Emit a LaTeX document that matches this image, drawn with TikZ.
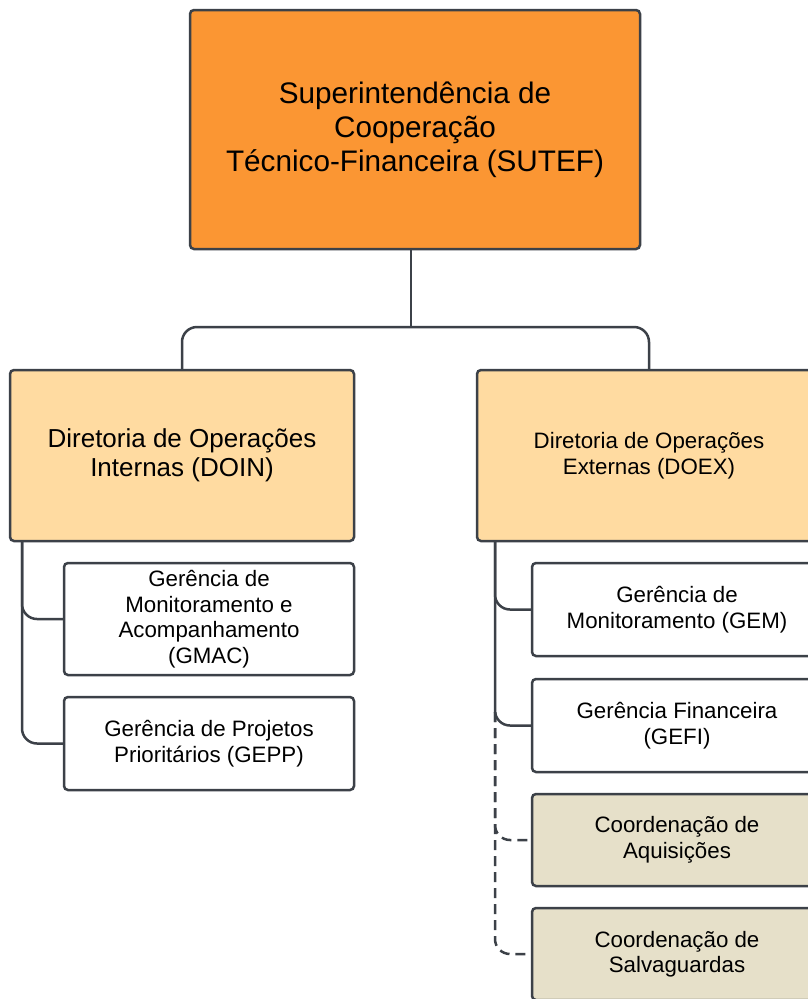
\documentclass[tikz,border=0pt]{standalone}
\usepackage{fontspec}
\setmainfont{Liberation Sans}
\definecolor{edge}{HTML}{3C4148}
\definecolor{topfill}{HTML}{FB9633}
\definecolor{dirfill}{HTML}{FFDBA1}
\definecolor{coordfill}{HTML}{E6E0C9}
\tikzset{
  box/.style={draw=edge, line width=2.5pt, rounded corners=4pt, align=center, inner sep=0pt, anchor=center},
  topbox/.style={box, fill=topfill, minimum width=450pt, minimum height=239pt, font=\fontsize{29.7}{34}\selectfont},
  dirbox/.style={box, fill=dirfill, minimum width=344pt, minimum height=171pt},
  gerbox/.style={box, fill=white, minimum width=290pt, minimum height=93pt, font=\fontsize{22.3}{25.5}\selectfont},
  coordbox/.style={gerbox, fill=coordfill, minimum height=92pt},
  link/.style={draw=edge, line width=2.5pt, rounded corners=15pt},
  dlink/.style={link, dash pattern=on 10pt off 6pt}
}
\begin{document}
\begin{tikzpicture}[x=1pt,y=-1pt]
\clip (0,0) rectangle (808,999);
\fill[white] (0,0) rectangle (808,999);
% nodes
\node[topbox] (sutef) at (415,129.5) {Superintendência de\\Cooperação\\Técnico-Financeira (SUTEF)};
\node[dirbox, font=\fontsize{26}{29.5}\selectfont] (doin) at (182,455.5) {Diretoria de Operações\\Internas (DOIN)};
\node[dirbox, font=\fontsize{22.3}{26}\selectfont] (doex) at (649,455.5) {Diretoria de Operações\\Externas (DOEX)};
\node[gerbox, minimum height=112pt] (gmac) at (209,619) {Gerência de\\Monitoramento e\\Acompanhamento\\(GMAC)};
\node[gerbox] (gepp) at (209,743.5) {Gerência de Projetos\\Prioritários (GEPP)};
\node[gerbox] (gem) at (677,609.5) {Gerência de\\Monitoramento (GEM)};
\node[gerbox] (gefi) at (677,725.5) {Gerência Financeira\\(GEFI)};
\node[coordbox] (caq) at (677,840) {Coordenação de\\Aquisições};
\node[coordbox] (csal) at (677,954) {Coordenação de\\Salvaguardas};
% junction coordinates
\coordinate (bar) at (411,327);
\coordinate (lbr) at (22,541);
\coordinate (rbr) at (495,541);
\coordinate (rdash) at (495,712);
% connectors
\draw[link] (sutef.south -| bar) -- (bar);
\draw[link] (doin.north) |- (bar) -| (doex.north);
\draw[link] (lbr) |- (gmac.west);
\draw[link] (lbr) |- (gepp.west);
\draw[link] (rbr) |- (gem.west);
\draw[link] (rbr) |- (gefi.west);
\draw[dlink] (rdash) |- (caq.west);
\draw[dlink] (rdash) |- (csal.west);
\end{tikzpicture}
\end{document}
